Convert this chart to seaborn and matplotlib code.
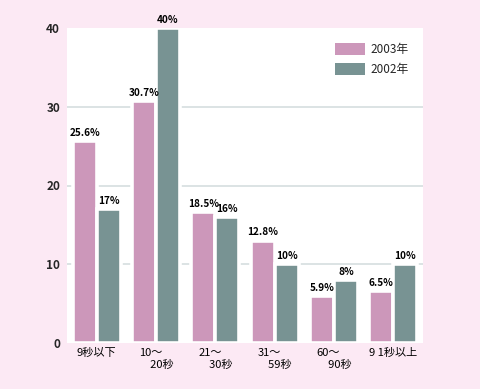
import matplotlib.pyplot as plt
from matplotlib.patches import Patch
import seaborn as sns
import pandas as pd

# Data
categories = ['9秒以下', '10～\n\u300020秒', '21～\n\u300030秒', '31～\n\u300059秒', '60～\n\u300090秒', '9 1秒以上']
years = ['2003年', '2002年']
heights_2003 = [25.6, 30.7, 16.6, 13.0, 6.0, 6.6]
heights_2002 = [17, 40, 16, 10, 8, 10]
labels_2003 = ['25.6%', '30.7%', '18.5%', '12.8%', '5.9%', '6.5%']
labels_2002 = ['17%', '40%', '16%', '10%', '8%', '10%']
yticks = [0, 10, 20, 30, 40]

bg = '#fce9f4'
pink = '#cc97ba'
teal = '#789393'

sns.set_theme(style='white')
plt.rcParams['font.family'] = ['Noto Sans CJK JP', 'DejaVu Sans']

df = pd.DataFrame({
    'category': categories * 2,
    'year': [years[0]] * len(categories) + [years[1]] * len(categories),
    'value': heights_2003 + heights_2002,
})

fig = plt.figure(figsize=(4.8, 3.89), dpi=100, facecolor=bg)
ax = fig.add_axes([67 / 480, 46 / 389, 356 / 480, 315 / 389])
ax.set_facecolor('white')

# grid drawn under the bars, white bar edges make the gaps
for y in yticks[1:-1]:
    ax.axhline(y, color='#d6dedf', lw=1.2, zorder=0)

sns.barplot(data=df, x='category', y='value', hue='year', order=categories,
            hue_order=years, palette=[pink, teal], width=0.81, saturation=1,
            edgecolor='white', linewidth=2.6, ax=ax, zorder=2, legend=False)

# value labels above each bar
for cont, labs in zip(ax.containers, [labels_2003, labels_2002]):
    for bar, lab in zip(cont, labs):
        ax.text(bar.get_x() + bar.get_width() / 2, bar.get_height() + 0.4, lab,
                ha='center', va='bottom', fontsize=7.2, fontweight='bold',
                color='black', zorder=3)

ax.set_xlim(-0.5, 5.5)
ax.set_ylim(0, 40)
ax.set_yticks(yticks)
ax.set_yticklabels([str(t) for t in yticks], fontsize=8.5, fontweight='bold')
ax.tick_params(axis='y', length=0, pad=5)
ax.tick_params(axis='x', length=0, pad=3.5)
for t in ax.get_xticklabels():
    t.set_fontsize(8)
    t.set_color('black')
    t.set_multialignment('left')
    t.set_linespacing(1.25)
ax.set_xlabel('')
ax.set_ylabel('')
for s in ax.spines.values():
    s.set_visible(False)

handles = [Patch(facecolor=pink, edgecolor='none'), Patch(facecolor=teal, edgecolor='none')]
ax.legend(handles, years, loc='upper left', bbox_to_anchor=(0.736, 0.972), frameon=False,
          borderpad=0, handlelength=2.55, handleheight=1.2, handletextpad=0.45,
          labelspacing=0.6, fontsize=8.5)

fig.savefig('out.png', dpi=100, facecolor=bg)
